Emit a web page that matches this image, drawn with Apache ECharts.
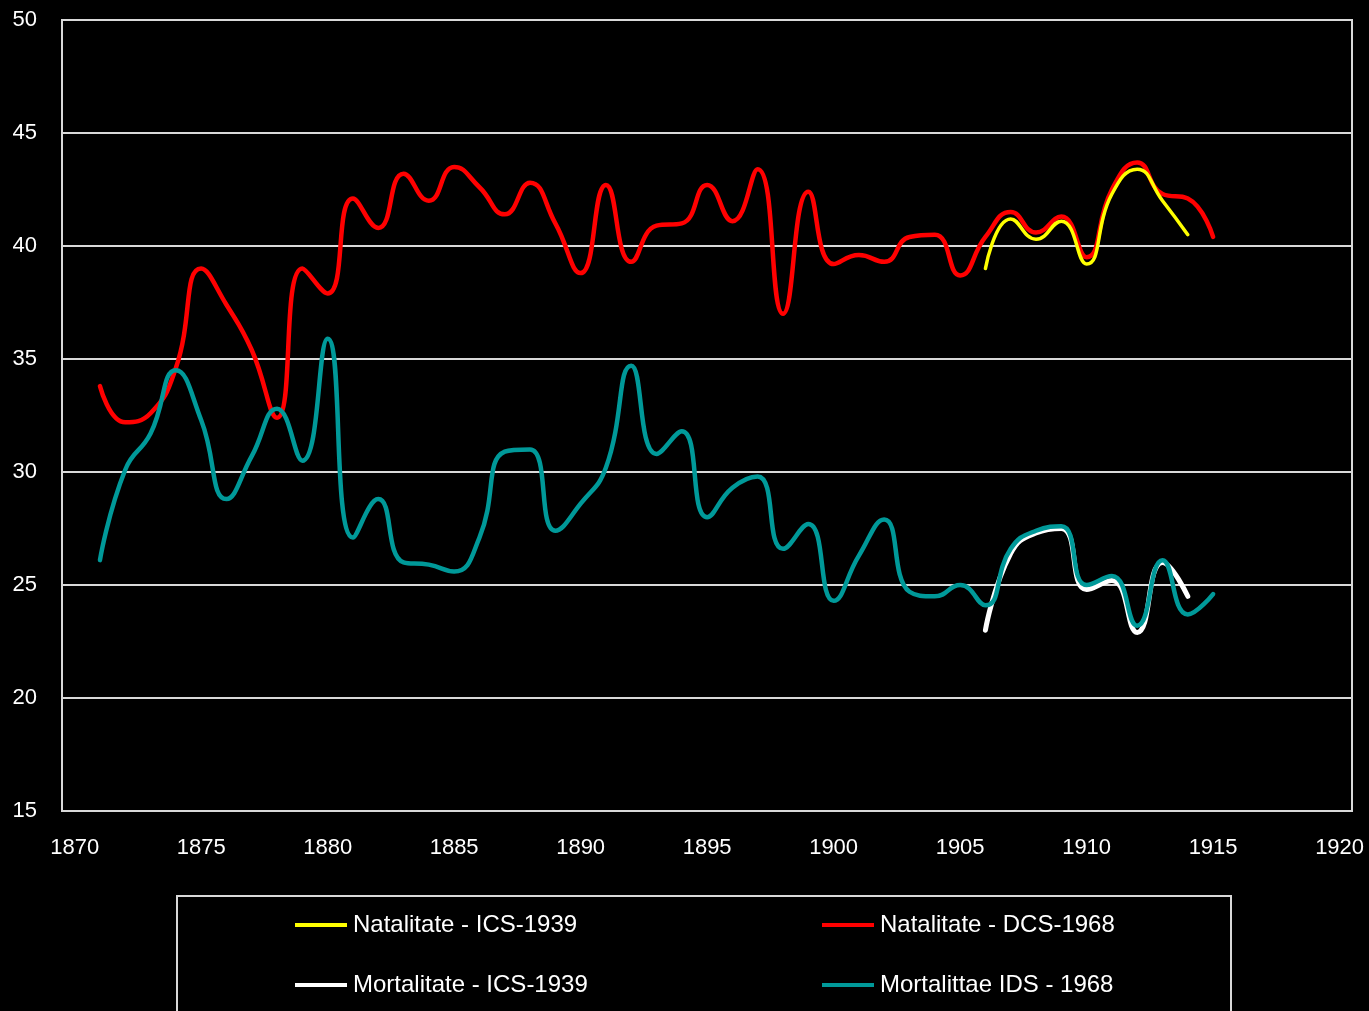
<!DOCTYPE html>
<html>
<head>
<meta charset="utf-8">
<script src="https://cdn.jsdelivr.net/npm/echarts@6/dist/echarts.min.js"></script>
<style>
  html, body { margin: 0; padding: 0; background: #000; }
  #chart { width: 1369px; height: 1011px; }
</style>
</head>
<body>
<div id="chart"></div>
<script>
// ---- data ----
const yearsLong = [1871,1872,1873,1874,1875,1876,1877,1878,1879,1880,
  1881,1882,1883,1884,1885,1886,1887,1888,1889,1890,
  1891,1892,1893,1894,1895,1896,1897,1898,1899,1900,
  1901,1902,1903,1904,1905,1906,1907,1908,1909,1910,
  1911,1912,1913,1914,1915];
const yearsShort = [1906,1907,1908,1909,1910,1911,1912,1913,1914];

const natalitateDCS1968 = [33.8,32.2,32.6,34.6,39.0,37.4,35.4,32.4,39.0,37.9,
  42.1,40.8,43.2,42.0,43.5,42.6,41.4,42.8,41.0,38.8,
  42.7,39.3,40.9,41.0,42.7,41.1,43.4,37.0,42.4,39.2,
  39.6,39.3,40.4,40.5,38.7,40.4,41.5,40.6,41.3,39.5,
  42.5,43.7,42.3,42.1,40.4];
const natalitateICS1939 = [39.0,41.2,40.3,41.1,39.2,42.3,43.4,42.0,40.5];

const mortalitateIDS1968 = [26.1,30.1,31.7,34.5,32.3,28.8,30.7,32.8,30.5,35.9,
  27.1,28.8,26.0,25.9,25.6,27.1,30.9,31.0,27.4,28.6,
  30.2,34.7,30.8,31.8,28.0,29.3,29.8,26.6,27.7,24.3,
  26.3,27.9,24.7,24.5,25.0,24.1,26.6,27.4,27.6,25.0,
  25.4,23.2,26.1,23.7,24.6];
const mortalitateICS1939 = [23.0,26.4,27.3,27.5,24.8,25.2,22.9,26.0,24.5];

const xTickLabels = [1870,1875,1880,1885,1890,1895,1900,1905,1910,1915,1920];
const seriesNames = ['Natalitate - ICS-1939','Natalitate - DCS-1968','Mortalitate - ICS-1939','Mortalittae IDS - 1968'];

function pairs(xs, ys) { return xs.map((x, i) => [x, ys[i]]); }

const FONT = 'Liberation Sans';
const chart = echarts.init(document.getElementById('chart'), null, { renderer: 'canvas' });

function legendAt(name, left, top) {
  return {
    data: [name], left: left, top: top, padding: 0, itemGap: 0,
    icon: 'rect', itemWidth: 52, itemHeight: 4, selectedMode: false,
    textStyle: { color: '#ffffff', fontSize: 24, fontFamily: FONT, padding: [0,0,0,1] }
  };
}

function lineSeries(name, data, color, width, z) {
  return {
    name: name, type: 'line', data: data, smooth: 0.5, showSymbol: false, symbol: 'none',
    lineStyle: { color: color, width: width, cap: 'round', join: 'round' },
    itemStyle: { color: color }, z: z, animation: false
  };
}

chart.setOption({
  backgroundColor: '#000000',
  animation: false,
  textStyle: { fontFamily: FONT },
  grid: { left: 62, right: 17, top: 20, bottom: 200, show: true, borderColor: '#d9d9d9', borderWidth: 2, backgroundColor: 'transparent' },
  xAxis: {
    type: 'value', min: 1869.5, max: 1920.49,
    axisLine: { show: false }, axisTick: { show: false }, splitLine: { show: false },
    axisLabel: { customValues: xTickLabels, color: '#ffffff', fontSize: 22, fontFamily: FONT, margin: 26, formatter: v => String(v) }
  },
  yAxis: {
    type: 'value', min: 15, max: 50, interval: 5,
    axisLine: { show: false }, axisTick: { show: false },
    splitLine: { show: true, lineStyle: { color: '#d9d9d9', width: 2 } },
    axisLabel: { color: '#ffffff', fontSize: 22, fontFamily: FONT, margin: 25 }
  },
  legend: [
    legendAt(seriesNames[0], 295, 913),
    legendAt(seriesNames[1], 822, 913),
    legendAt(seriesNames[2], 295, 973),
    legendAt(seriesNames[3], 822, 973)
  ],
  graphic: [{
    type: 'rect', left: 176, top: 895, silent: true,
    shape: { width: 1054, height: 140 },
    style: { fill: 'transparent', stroke: '#d9d9d9', lineWidth: 2 }
  }],
  series: [
    lineSeries(seriesNames[1], pairs(yearsLong, natalitateDCS1968), '#ff0000', 4.5, 2),
    lineSeries(seriesNames[0], pairs(yearsShort, natalitateICS1939), '#ffff00', 3.5, 3),
    lineSeries(seriesNames[2], pairs(yearsShort, mortalitateICS1939), '#ffffff', 5, 4),
    lineSeries(seriesNames[3], pairs(yearsLong, mortalitateIDS1968), '#009999', 4.5, 5)
  ]
});
</script>
</body>
</html>
